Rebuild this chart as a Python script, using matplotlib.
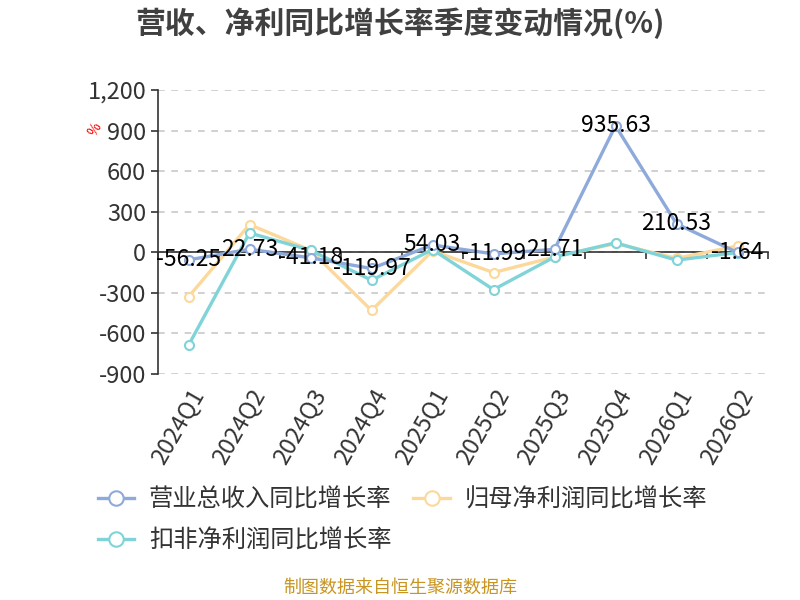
import matplotlib
matplotlib.use('Agg')
import matplotlib.pyplot as plt
from matplotlib.ticker import FuncFormatter, FixedLocator
import numpy as np

plt.rcParams['font.family'] = ['Noto Sans CJK SC', 'DejaVu Sans']

# Data
quarters = ['2024Q1', '2024Q2', '2024Q3', '2024Q4', '2025Q1',
            '2025Q2', '2025Q3', '2025Q4', '2026Q1', '2026Q2']
revenue_yoy = [-56.25, 22.73, -41.18, -119.97, 54.03, -11.99, 21.71, 935.63, 210.53, -1.64]
parent_np_yoy = [-330, 205, 15, -430, 10, -150, -35, 65, -45, 47]
deducted_np_yoy = [-688, 143, 15, -207, 20, -276, -35, 70, -58, -2]

names = ['营业总收入同比增长率', '归母净利润同比增长率', '扣非净利润同比增长率']
colors = ['#8eaadb', '#fdd89b', '#80d4d8']

x = np.arange(len(quarters))

fig = plt.figure(figsize=(8, 6), dpi=100)
ax = fig.add_axes([0.1975, 0.3767, 0.7625, 0.4733])

handles = []
for vals, name, c, z in zip([revenue_yoy, parent_np_yoy, deducted_np_yoy], names, colors, [4, 3, 3]):
    h, = ax.plot(x, vals, color=c, lw=2.4, marker='o', markersize=6.5,
                 markerfacecolor='white', markeredgecolor=c, markeredgewidth=1.5,
                 label=name, zorder=z)
    handles.append(h)

# labels for revenue series
for xi, v in zip(x, revenue_yoy):
    ax.text(xi, v, f'{v:.2f}', ha='center', va='center', fontsize=16.5,
            color='black', zorder=6)

ax.set_xlim(-0.5, len(quarters) - 0.5)
ax.set_ylim(-900, 1200)
ax.set_yticks(np.arange(-900, 1201, 300))
ax.yaxis.set_major_formatter(FuncFormatter(lambda v, p: f'{int(v):,}'))
ax.tick_params(axis='y', labelsize=17, labelcolor='#333333', length=5, color='#333333', width=1.2)
ax.grid(axis='y', linestyle=(0, (4, 4)), color='#c8c8c8', lw=1.2)
ax.set_axisbelow(True)

# x axis line at zero with ticks on category boundaries
for s in ['top', 'right']:
    ax.spines[s].set_visible(False)
ax.spines['left'].set_color('#333333')
ax.spines['left'].set_linewidth(1.2)
ax.spines['bottom'].set_position(('data', 0))
ax.spines['bottom'].set_color('#333333')
ax.spines['bottom'].set_linewidth(1.2)
ax.xaxis.set_major_locator(FixedLocator(np.arange(-0.5, len(quarters), 1.0)))
ax.xaxis.set_major_formatter(FuncFormatter(lambda v, p: ''))
ax.tick_params(axis='x', length=5, color='#333333', width=1.2)

sec = ax.secondary_xaxis(0)
sec.set_xticks(x)
sec.set_xticklabels(quarters, rotation=60, ha='right', rotation_mode='anchor',
                    fontsize=17, color='#333333')
sec.tick_params(length=0, pad=8)
sec.spines['bottom'].set_visible(False)

ax.text(-0.103, 0.86, '%', transform=ax.transAxes, rotation=60, color='red',
        fontsize=10, ha='center', va='center')

fig.text(0.5, 0.962, '营收、净利同比增长率季度变动情况(%)', ha='center', va='center',
         fontsize=21.5, fontweight='bold', color='#404040')

leg = fig.legend([handles[0], handles[2], handles[1]],
                 [names[0], names[2], names[1]],
                 ncol=2, loc='upper left', bbox_to_anchor=(0.095, 0.225),
                 frameon=False, fontsize=17.5, handlelength=1.5, handletextpad=0.6,
                 columnspacing=0.9, labelspacing=0.6, markerscale=1.6)
for t in leg.get_texts():
    t.set_color('#333333')

fig.text(0.5, 0.02, '制图数据来自恒生聚源数据库', ha='center', va='center',
         fontsize=13, color='#c89520')

fig.savefig('out.png', dpi=100)
